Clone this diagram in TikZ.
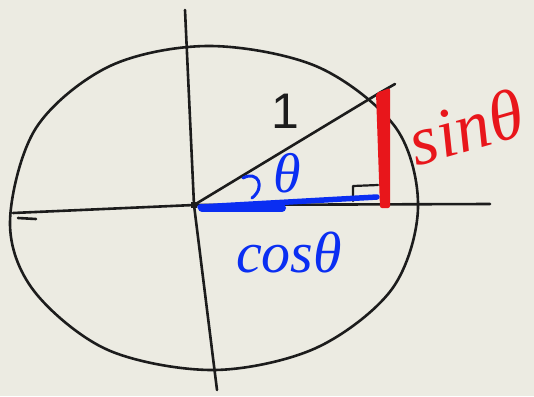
\documentclass[tikz,border=0pt]{standalone}
\usepackage{fontspec}
\newfontfamily\handfont{Liberation Serif}
\newfontfamily\barfont{Liberation Sans}
\definecolor{paper}{HTML}{ECEBE2}
\definecolor{ink}{HTML}{1C1C1C}
\definecolor{penred}{HTML}{E8161B}
\definecolor{penblue}{HTML}{0A2EF2}
\begin{document}
\begin{tikzpicture}[x=1pt,y=-1pt,
  inkline/.style={draw=ink, line width=2.6pt, line cap=round, line join=round},
  bluepen/.style={draw=penblue, line cap=round, line join=round},
  redpen/.style={draw=penred, line cap=round, line join=round},
  handlabel/.style={inner sep=0pt}]
\fill[paper] (0,0) rectangle (534,396);
\useasboundingbox (0,0) rectangle (534,396);
% key points
\coordinate (O) at (194,205);
\coordinate (ytop) at (185,10);
\coordinate (ybot) at (217,390);
\coordinate (xleft) at (13,213);
\coordinate (xright) at (490,204);
\coordinate (P) at (381,92);
\coordinate (Pext) at (395,84);
% circle
\draw[inkline] plot[smooth cycle, tension=0.55] coordinates {
 (418,208) (396,128) (318,67) (210,46) (110,66) (36,128) (10,222)
 (34,291) (108,350) (214,370) (316,348) (392,289)};
% axes
\draw[inkline] (ytop) -- (O) -- (ybot);
\draw[inkline] (xleft) -- (O) -- (xright);
\draw[inkline] (18,218) -- (36,219);
\fill[ink] (O) ++(-3,-3) rectangle ++(6,6);
% radius
\draw[inkline] (O) -- (P) -- (Pext);
% right angle marker
\draw[inkline, line width=2.2pt] (353,201) -- (353,186) -- (378,185);
% cos (blue)
\draw[bluepen, line width=5.5pt] (O) ++(6,2) -- (377,197);
\draw[bluepen, line width=8pt] (O) ++(8,3) -- (282,208);
% sin (red)
\fill[penred, rounded corners=2pt] (376,93) -- (390,88) -- (390,208) -- (380,208) -- cycle;
% angle mark
\draw[bluepen, line width=3pt] (243,178) .. controls (258,170) and (266,187) .. (252,198);
% labels
\node[ink, inner sep=0pt, font=\barfont\fontsize{50}{50}\selectfont] (one) at (285,111) {1};
\node[handlabel, text=penblue, font=\handfont\itshape\fontsize{56}{56}\selectfont] (theta) at (287,173) {θ};
\node[handlabel, text=penblue, font=\handfont\itshape\fontsize{58}{58}\selectfont] (cos) at (289,253) {cosθ};
\node[handlabel, text=penred, font=\handfont\itshape\fontsize{70}{70}\selectfont, rotate=16] (sin) at (466,127) {sinθ};
\end{tikzpicture}
\end{document}
